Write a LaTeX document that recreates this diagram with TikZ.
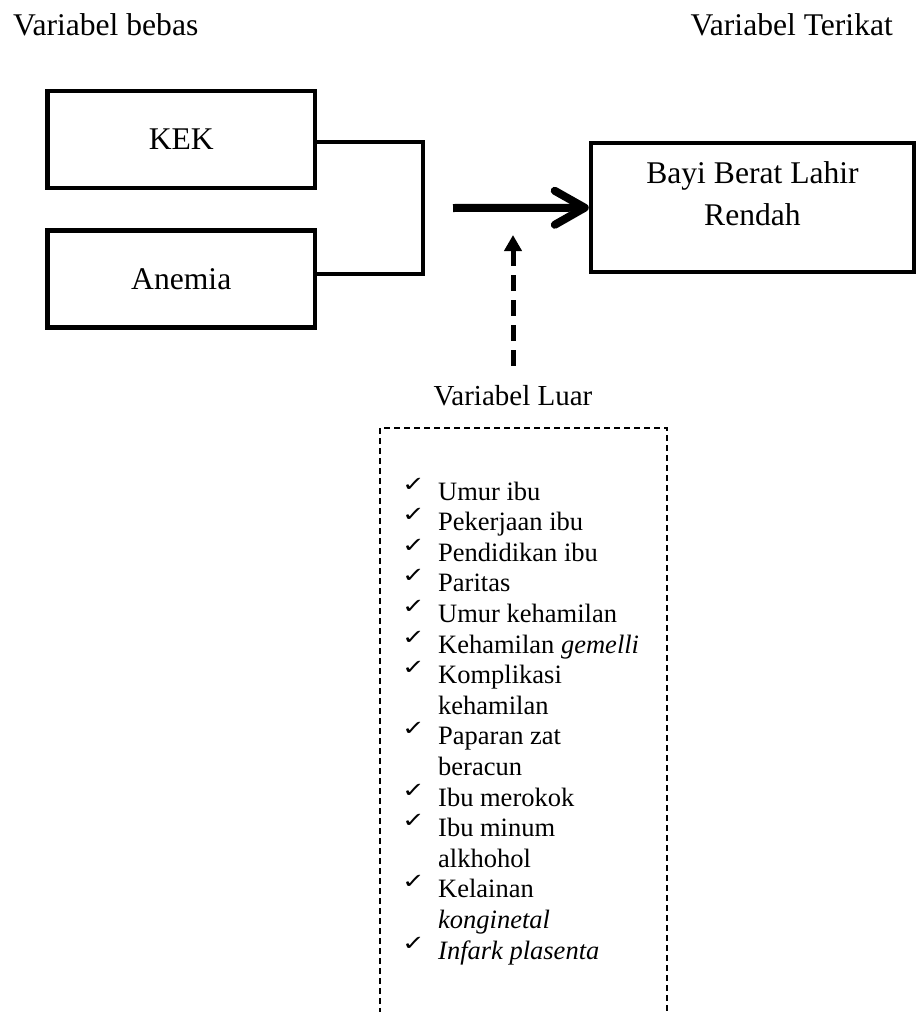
\documentclass[tikz,border=0pt]{standalone}
\usepackage{fontspec}
\setmainfont{Liberation Serif}
\newfontfamily\ckfont{DejaVu Sans}
\usetikzlibrary{arrows.meta}
\newcommand\bigtxt{\fontsize{31.6}{36}\selectfont}
\newcommand\bayitxt{\fontsize{31.6}{42}\selectfont}
\newcommand\luartxt{\fontsize{29}{33}\selectfont}
\newcommand\listtxt{\fontsize{26.5}{30.6}\selectfont}
\newcommand\ck{\makebox[36pt][l]{\raisebox{9pt}[0pt][0pt]{\scalebox{1.3}[1]{\ckfont\fontsize{21}{21}\selectfont ✓}}}}
\begin{document}
\begin{tikzpicture}[x=1pt,y=-1pt,
  toplabel/.style={inner sep=0, font=\bigtxt},
  varbox/.style={draw, line width=4.5pt, minimum width=267.5pt, minimum height=97pt, inner sep=0, outer sep=0, font=\bigtxt},
  outbox/.style={draw, line width=4pt, minimum width=323.5pt, minimum height=128.7pt, inner sep=0, outer sep=0},
  joinline/.style={line width=3.5pt},
  mainarrow/.style={line width=8pt, -{Straight Barb[length=30pt,width=34pt,round]}, shorten >=2pt},
  dasharrow/.style={line width=5pt, dash pattern=on 16pt off 9pt, {Triangle[length=16pt,width=17pt]}-},
  dbox/.style={line width=2.5pt, dash pattern=on 6pt off 4pt}
]
\useasboundingbox (0,0) rectangle (916,1012);
\fill[white] (0,0) rectangle (916,1012);

\node[toplabel, anchor=base west] (bebas) at (13,35) {Variabel bebas};
\node[toplabel, anchor=base east] (terikat) at (893,35) {Variabel Terikat};

\node[varbox] (kek) at (181.25,139.5) {KEK};
\node[varbox] (anemia) at (181.25,279) {Anemia};
\draw[joinline] ([yshift=-2.5pt]kek.east) -- ++(108,0) |- ([yshift=5pt]anemia.east);

\node[outbox] (bayi) at (752.5,207.7) {};
\node[anchor=base, inner sep=0] (bayitext) at (752.5,183) {\bayitxt\begin{tabular}[t]{@{}c@{}}Bayi Berat Lahir\\Rendah\end{tabular}};

\coordinate (astart) at (453,208);
\draw[mainarrow] (astart) -- (bayi.west);

\node[font=\luartxt, anchor=base, inner sep=0] (luar) at (513,405) {Variabel Luar};
\coordinate (luartip) at (513,235);
\draw[dasharrow, shorten >=17pt] (luartip) -- (luar.north);

\draw[dbox] (380,1014) -- (380,428) -- (667,428) -- (667,1014);

\node[anchor=base west, inner sep=0, font=\listtxt] (list) at (402,500) {\begin{tabular}[t]{@{}l@{}l@{}}
\ck & Umur ibu\\
\ck & Pekerjaan ibu\\
\ck & Pendidikan ibu\\
\ck & Paritas\\
\ck & Umur kehamilan\\
\ck & Kehamilan \textit{gemelli}\\
\ck & Komplikasi\\
 & kehamilan\\
\ck & Paparan zat\\
 & beracun\\
\ck & Ibu merokok\\
\ck & Ibu minum\\
 & alkhohol\\
\ck & Kelainan\\
 & \textit{konginetal}\\
\ck & \textit{Infark plasenta}
\end{tabular}};
\end{tikzpicture}
\end{document}
